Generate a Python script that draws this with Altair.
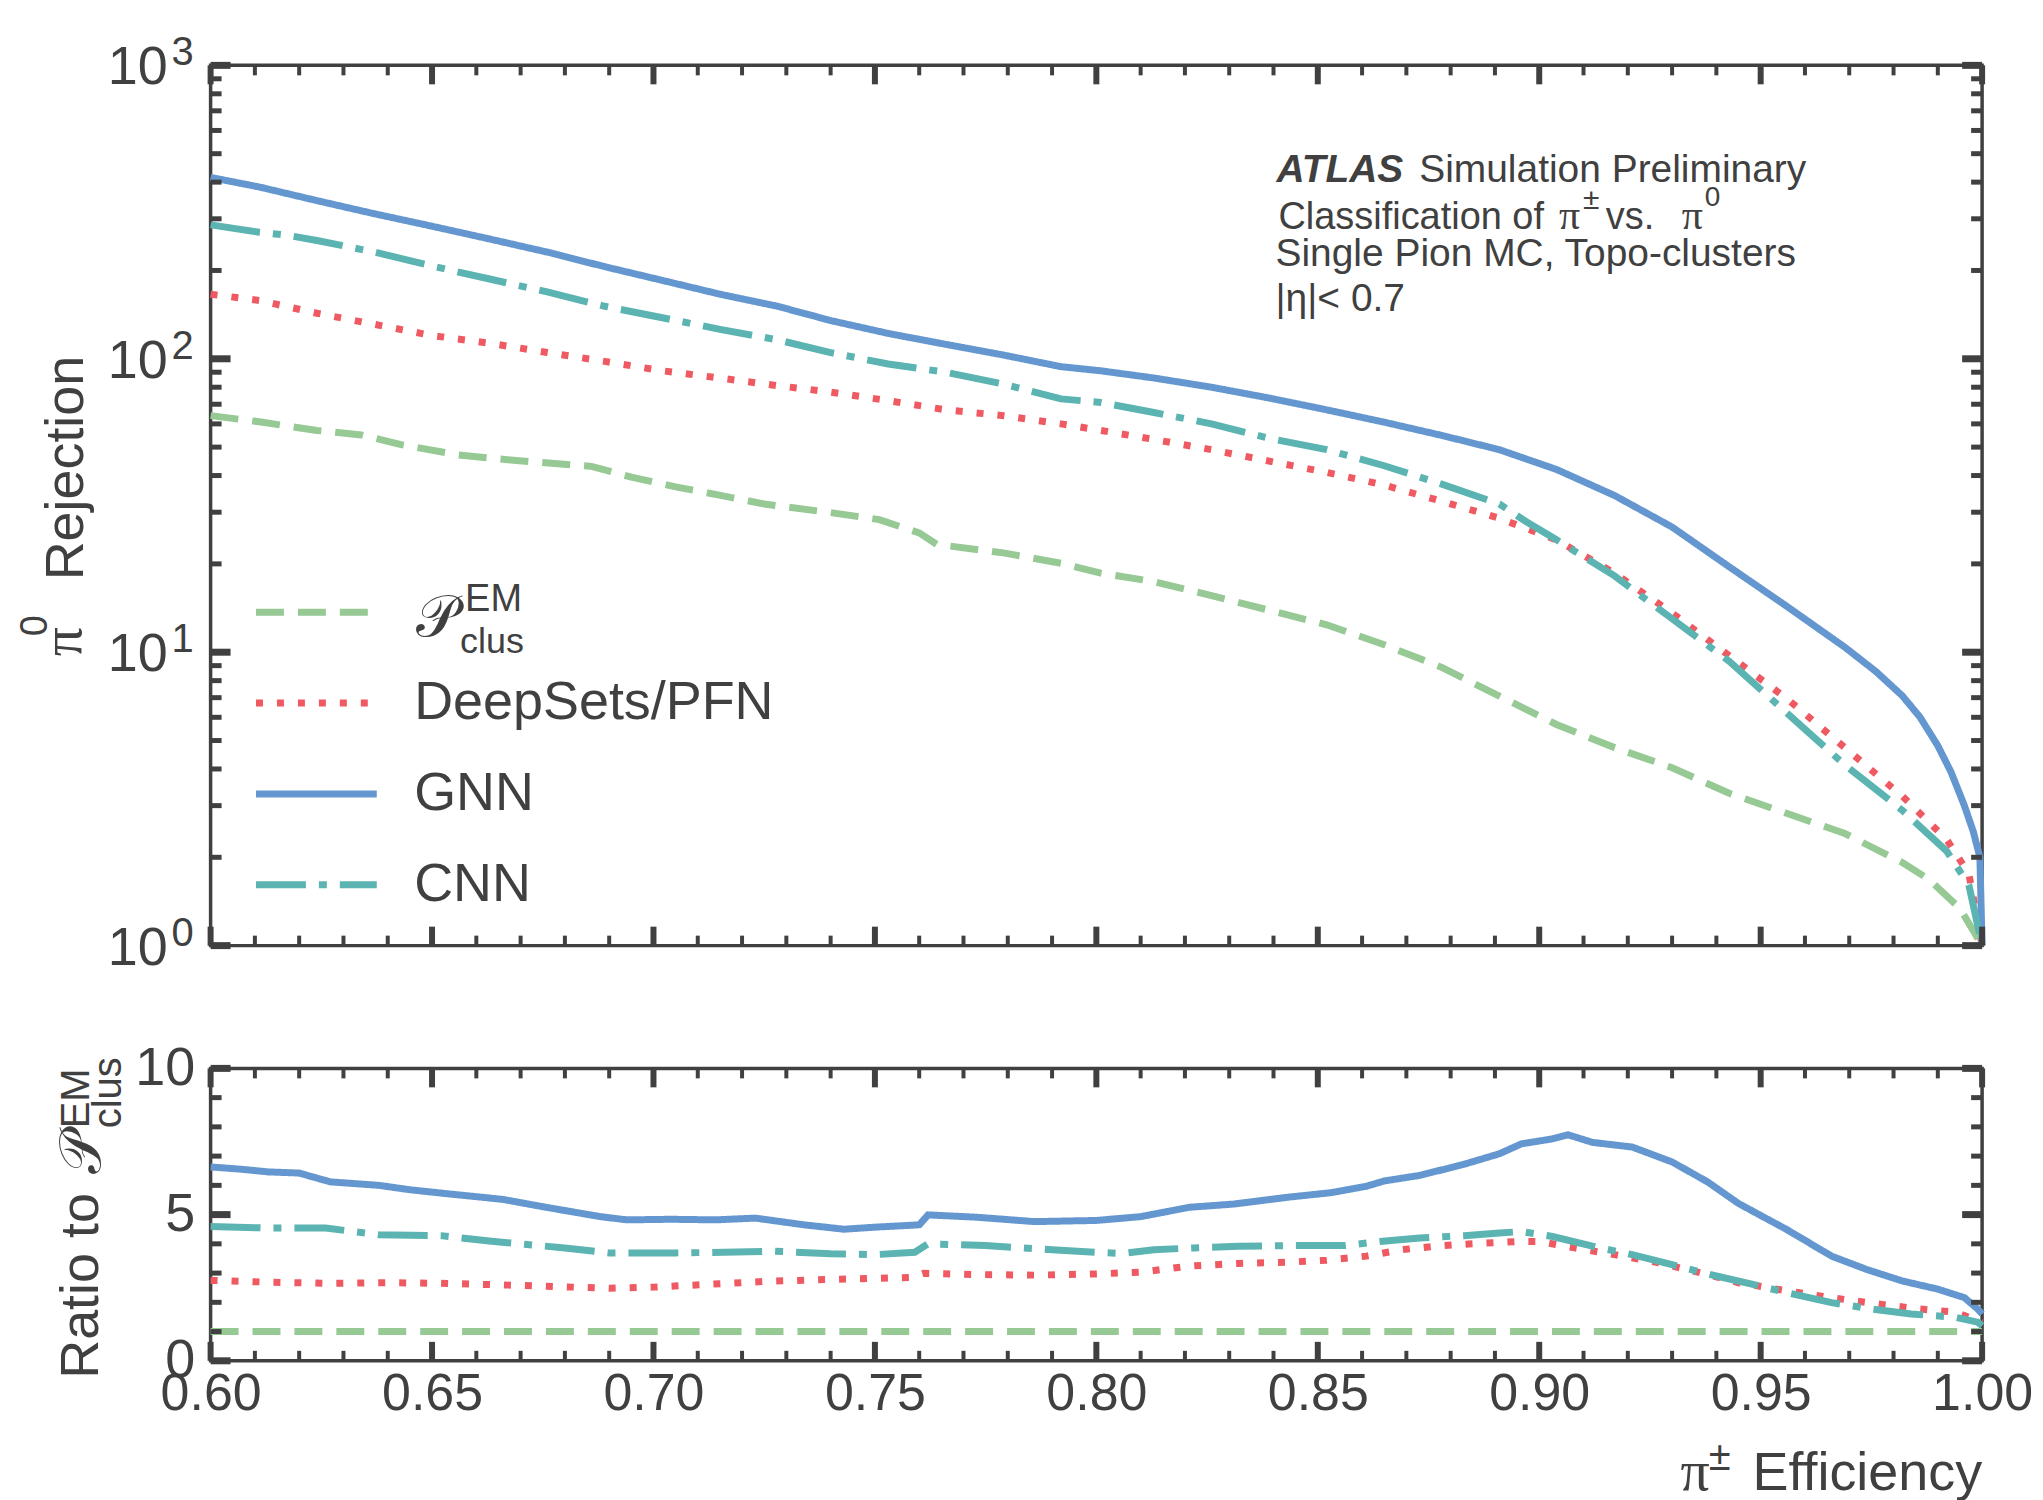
import altair as alt
import pandas as pd

FONT = "Liberation Sans"
SERIF = "Liberation Serif"
INK = "#404040"

SERIES = ["Pclus", "DeepSets/PFN", "GNN", "CNN"]
COLORS = ["#97c995", "#ef5a62", "#6497cf", "#5bb4b1"]
DASHES = [[28, 14], [7, 14], [1, 0], [50, 13, 8, 13]]

# ---------------- top panel: pi0 rejection vs pi+- efficiency ----------------
pclus_eff = [0.600, 0.611, 0.624, 0.634, 0.643, 0.656, 0.669, 0.686, 0.695, 0.705, 0.714, 0.725,
             0.740, 0.751, 0.760, 0.764, 0.779, 0.792, 0.801, 0.813, 0.826, 0.839, 0.852, 0.865,
             0.878, 0.891, 0.904, 0.917, 0.930, 0.943, 0.956, 0.969, 0.982, 0.988, 0.995, 0.9995, 1.0]
pclus_rej = [64, 61, 57, 55, 51, 47, 45, 43, 39.5, 36.6, 34.5, 32,
             29.9, 28.3, 25.5, 23.3, 21.8, 20.1, 18.6, 17.4, 15.6, 13.9, 12.4, 10.6,
             8.88, 7.09, 5.66, 4.73, 4.04, 3.30, 2.82, 2.41, 1.92, 1.68, 1.34, 1.03, 1.0]

deep_eff = [0.600, 0.611, 0.624, 0.637, 0.650, 0.663, 0.676, 0.689, 0.702, 0.715, 0.728, 0.740,
            0.753, 0.766, 0.779, 0.792, 0.801, 0.813, 0.826, 0.839, 0.852, 0.865, 0.878, 0.891,
            0.904, 0.917, 0.930, 0.943, 0.956, 0.969, 0.982, 0.992, 0.997, 1.0]
deep_rej = [166, 158, 143, 131, 120, 113, 105, 98, 91, 86, 81, 77,
            72, 67, 64, 60, 57, 53.1, 49, 44.8, 41, 37.1, 32.7, 28.6,
            24.1, 18.6, 13.6, 9.7, 6.93, 4.73, 3.23, 2.30, 1.76, 1.0]

gnn_eff = [0.600, 0.611, 0.624, 0.637, 0.650, 0.663, 0.676, 0.689, 0.702, 0.715, 0.728, 0.740,
           0.753, 0.766, 0.779, 0.792, 0.801, 0.813, 0.826, 0.839, 0.852, 0.865, 0.878, 0.891,
           0.904, 0.917, 0.930, 0.943, 0.956, 0.969, 0.976, 0.982, 0.986, 0.990, 0.993, 0.996,
           0.998, 0.9995, 1.0]
gnn_rej = [415, 385, 346, 312, 283, 256, 231, 206, 185, 166, 151, 135,
           122, 112, 103, 94, 91, 86, 80, 73.5, 67, 60.8, 54.8, 49,
           41.9, 34.2, 26.7, 19.5, 14.3, 10.4, 8.6, 7.1, 6.0, 4.8, 3.9, 3.0,
           2.45, 2.0, 1.0]

cnn_eff = [0.600, 0.611, 0.617, 0.624, 0.637, 0.650, 0.663, 0.676, 0.689, 0.702, 0.715, 0.728,
           0.740, 0.753, 0.766, 0.779, 0.792, 0.801, 0.813, 0.826, 0.839, 0.852, 0.865, 0.878,
           0.891, 0.897, 0.904, 0.917, 0.930, 0.943, 0.956, 0.969, 0.982, 0.992, 0.997, 1.0]
cnn_rej = [286, 270, 264, 253, 231, 207, 187, 169, 151, 138, 126, 116,
           105, 96, 90, 82, 73, 71, 65.6, 60, 53.6, 49, 43.2, 37.4,
           32, 27.9, 24.1, 18.2, 13, 9.29, 6.19, 4.13, 2.89, 2.10, 1.61, 1.0]

# ---------------- bottom panel: ratio to P_clus^EM ----------------
r_pclus_eff = [0.60, 0.70, 0.80, 0.90, 1.00]
r_pclus_val = [1.0, 1.0, 1.0, 1.0, 1.0]

r_deep_eff = [0.600, 0.613, 0.626, 0.640, 0.652, 0.665, 0.678, 0.690, 0.700, 0.713, 0.726, 0.739,
              0.750, 0.758, 0.761, 0.773, 0.786, 0.800, 0.810, 0.821, 0.832, 0.843, 0.852, 0.861,
              0.869, 0.878, 0.888, 0.896, 0.900, 0.908, 0.917, 0.927, 0.938, 0.945, 0.956, 0.966,
              0.975, 0.986, 0.994, 0.998, 1.0]
r_deep_val = [2.75, 2.69, 2.65, 2.67, 2.65, 2.60, 2.54, 2.48, 2.52, 2.62, 2.72, 2.78,
              2.82, 2.85, 2.99, 2.95, 2.93, 2.97, 3.03, 3.24, 3.33, 3.37, 3.44, 3.58,
              3.80, 3.94, 4.03, 4.08, 4.08, 3.86, 3.63, 3.35, 2.95, 2.67, 2.39, 2.16,
              1.97, 1.77, 1.66, 1.43, 1.3]

r_gnn_eff = [0.600, 0.607, 0.613, 0.620, 0.627, 0.638, 0.645, 0.653, 0.666, 0.675, 0.688, 0.694,
             0.704, 0.714, 0.723, 0.734, 0.743, 0.750, 0.760, 0.762, 0.773, 0.786, 0.800, 0.810,
             0.821, 0.831, 0.843, 0.853, 0.861, 0.865, 0.873, 0.883, 0.891, 0.896, 0.903, 0.9065,
             0.912, 0.921, 0.930, 0.938, 0.945, 0.956, 0.966, 0.974, 0.982, 0.990, 0.996, 0.999, 1.0]
r_gnn_val = [6.63, 6.55, 6.46, 6.42, 6.12, 6.00, 5.85, 5.72, 5.52, 5.27, 4.93, 4.82,
             4.84, 4.82, 4.88, 4.65, 4.50, 4.57, 4.65, 4.99, 4.91, 4.76, 4.80, 4.93,
             5.25, 5.36, 5.59, 5.75, 5.97, 6.15, 6.34, 6.72, 7.08, 7.42, 7.59, 7.73,
             7.47, 7.31, 6.80, 6.12, 5.38, 4.48, 3.58, 3.12, 2.73, 2.45, 2.16, 1.77, 1.6]

r_cnn_eff = [0.600, 0.613, 0.626, 0.638, 0.652, 0.664, 0.680, 0.690, 0.705, 0.716, 0.727, 0.740,
             0.750, 0.759, 0.762, 0.775, 0.790, 0.800, 0.806, 0.813, 0.822, 0.832, 0.843, 0.856,
             0.864, 0.873, 0.883, 0.891, 0.896, 0.903, 0.912, 0.921, 0.930, 0.940, 0.948, 0.956,
             0.966, 0.975, 0.984, 0.994, 0.999, 1.0]
r_cnn_val = [4.59, 4.54, 4.54, 4.31, 4.28, 4.08, 3.86, 3.69, 3.69, 3.71, 3.75, 3.66,
             3.63, 3.71, 4.00, 3.94, 3.80, 3.71, 3.67, 3.80, 3.86, 3.92, 3.94, 3.94,
             4.08, 4.20, 4.28, 4.37, 4.42, 4.25, 3.92, 3.63, 3.29, 2.90, 2.62, 2.33,
             1.99, 1.77, 1.60, 1.49, 1.32, 1.2]

# ---------------- ticks and labels ----------------
x_major = [0.60, 0.65, 0.70, 0.75, 0.80, 0.85, 0.90, 0.95, 1.00]
x_minor = [round(0.60 + 0.01 * i, 2) for i in range(41) if i % 5 != 0]
top_y_major = [1, 10, 100, 1000]
top_y_exp = ["0", "1", "2", "3"]
top_y_minor = [m * 10 ** k for k in range(3) for m in range(2, 10)]
bot_y_major = [0, 5, 10]
bot_y_minor = [1, 2, 3, 4, 6, 7, 8, 9]

ANNOT_ATLAS = "ATLAS"
ANNOT_1 = "Simulation Preliminary"
ANNOT_2 = "Classification of"
ANNOT_3 = "Single Pion MC, Topo-clusters"
ANNOT_4 = "|η|< 0.7"
SCRIPT_P = "𝒫"

W, H1, H2 = 1775, 882, 293


def frame_df(effs, vals, name):
    return pd.DataFrame({"eff": effs, "val": vals, "series": name})


top_df = pd.concat([frame_df(pclus_eff, pclus_rej, SERIES[0]),
                    frame_df(deep_eff, deep_rej, SERIES[1]),
                    frame_df(gnn_eff, gnn_rej, SERIES[2]),
                    frame_df(cnn_eff, cnn_rej, SERIES[3])], ignore_index=True)
bot_df = pd.concat([frame_df(r_pclus_eff, r_pclus_val, SERIES[0]),
                    frame_df(r_deep_eff, r_deep_val, SERIES[1]),
                    frame_df(r_gnn_eff, r_gnn_val, SERIES[2]),
                    frame_df(r_cnn_eff, r_cnn_val, SERIES[3])], ignore_index=True)

xscale = alt.Scale(domain=[0.6, 1.0], nice=False, zero=False)
yscale_top = alt.Scale(type="log", domain=[1, 1000], nice=False)
yscale_bot = alt.Scale(domain=[0, 10], nice=False, zero=False)

bot_xaxis = alt.Axis(values=x_major, format=".2f", ticks=False, tickSize=0, domain=False,
                     grid=False, labelFont=FONT, labelFontSize=52, labelColor=INK,
                     labelPadding=8, labelFlush=False, title=None)
bot_yaxis = alt.Axis(values=bot_y_major, format="d", ticks=False, tickSize=0, domain=False,
                     grid=False, labelFont=FONT, labelFontSize=54, labelColor=INK,
                     labelPadding=16, title=None)


def txt(s, x, y, size, font=FONT, align="left", baseline="alphabetic", angle=0,
        weight="normal", style="normal", color=INK):
    return alt.Chart(pd.DataFrame({"label": [s]})).mark_text(
        align=align, baseline=baseline, angle=angle, font=font, fontSize=size,
        fontWeight=weight, fontStyle=style, color=color
    ).encode(x=alt.value(x), y=alt.value(y), text="label:N")


def x_ticks(vals, length, width, height, axis=None):
    base = alt.Chart(pd.DataFrame({"v": vals})).mark_rule(color=INK, strokeWidth=width)
    xe = alt.X("v:Q", scale=xscale, axis=axis)
    return [base.encode(x=xe, y=alt.value(height), y2=alt.value(height - length)),
            base.encode(x=xe, y=alt.value(0), y2=alt.value(length))]


def y_ticks(vals, yscale, length, width, axis=None):
    base = alt.Chart(pd.DataFrame({"v": vals})).mark_rule(color=INK, strokeWidth=width)
    ye = alt.Y("v:Q", scale=yscale, axis=axis)
    return [base.encode(y=ye, x=alt.value(0), x2=alt.value(length)),
            base.encode(y=ye, x=alt.value(W), x2=alt.value(W - length))]


legend = alt.Legend(
    orient="none", legendX=42, legendY=484, title=None, direction="vertical",
    symbolType="stroke", symbolSize=121 * 121, symbolStrokeWidth=7,
    labelFont=FONT, labelFontSize=54, labelColor=INK, labelOffset=34, labelLimit=1000,
    rowPadding=-45, padding=0,
    labelExpr="datum.label == 'Pclus' ? '' : datum.label",
)

top_lines = alt.Chart(top_df).mark_line(strokeWidth=7, strokeCap="butt").encode(
    x=alt.X("eff:Q", scale=xscale, axis=None),
    y=alt.Y("val:Q", scale=yscale_top, axis=None),
    color=alt.Color("series:N", scale=alt.Scale(domain=SERIES, range=COLORS), legend=legend),
    strokeDash=alt.StrokeDash("series:N", scale=alt.Scale(domain=SERIES, range=DASHES), legend=legend),
)

ylab_df = pd.DataFrame({"v": top_y_major, "exp": top_y_exp})
ylab_ten = alt.Chart(ylab_df).mark_text(
    align="right", baseline="alphabetic", font=FONT, fontSize=54, color=INK, dy=19, text="10"
).encode(y=alt.Y("v:Q", scale=yscale_top, axis=None), x=alt.value(-43))
ylab_exp = alt.Chart(ylab_df).mark_text(
    align="right", baseline="alphabetic", font=FONT, fontSize=40, color=INK, dy=0
).encode(y=alt.Y("v:Q", scale=yscale_top, axis=None), x=alt.value(-17), text="exp:N")

anchor = alt.Chart(pd.DataFrame({"a": [0]})).mark_rule(color="white", strokeWidth=1).encode(
    x=alt.value(-200), x2=alt.value(-199), y=alt.value(-53), y2=alt.value(-52))

top_layers = [anchor, top_lines]
top_layers += x_ticks(x_major, 19, 6, H1) + x_ticks(x_minor, 10, 4, H1)
top_layers += y_ticks(top_y_major, yscale_top, 20, 7) + y_ticks(top_y_minor, yscale_top, 11, 5)
top_layers += [ylab_ten, ylab_exp]
top_layers += [
    # y title
    txt("Rejection", -128, 516, 54, angle=270),
    txt("π", -130, 592, 58, font=SERIF, angle=270),
    txt("0", -164, 572, 38, angle=270),
    # annotation
    txt(ANNOT_ATLAS, 1068, 117, 39, weight="bold", style="italic"),
    txt(ANNOT_1, 1211, 117, 39),
    txt(ANNOT_2, 1070, 164, 38),
    txt("π", 1351, 164, 42, font=SERIF),
    txt("±", 1375, 144, 30),
    txt("vs.", 1398, 164, 38),
    txt("π", 1474, 164, 42, font=SERIF),
    txt("0", 1497, 141, 28),
    txt(ANNOT_3, 1067, 201, 39),
    txt(ANNOT_4, 1067, 246, 39),
    # legend label for P_clus^EM
    txt(SCRIPT_P, 206, 572, 58, font=SERIF),
    txt("EM", 255, 547, 38),
    txt("clus", 250, 589, 36),
]
top = alt.layer(*top_layers).properties(width=W, height=H1)

bot_lines = alt.Chart(bot_df).mark_line(strokeWidth=7, strokeCap="butt").encode(
    x=alt.X("eff:Q", scale=xscale, axis=bot_xaxis),
    y=alt.Y("val:Q", scale=yscale_bot, axis=bot_yaxis),
    color=alt.Color("series:N", scale=alt.Scale(domain=SERIES, range=COLORS), legend=None),
    strokeDash=alt.StrokeDash("series:N", scale=alt.Scale(domain=SERIES, range=DASHES), legend=None),
)

bot_layers = [bot_lines]
bot_layers += x_ticks(x_major, 19, 6, H2, bot_xaxis) + x_ticks(x_minor, 10, 4, H2, bot_xaxis)
bot_layers += (y_ticks(bot_y_major, yscale_bot, 20, 7, bot_yaxis)
               + y_ticks(bot_y_minor, yscale_bot, 11, 5, bot_yaxis))
bot_layers += [
    txt("Ratio to", -113, 311, 54, angle=270),
    txt(SCRIPT_P, -111, 106, 58, font=SERIF, angle=270),
    txt("EM", -122, 60, 40, angle=270),
    txt("clus", -90, 60, 40, angle=270),
    txt("Efficiency", W, 422, 54, align="right"),
    txt("±", 1523, 402, 40, align="right"),
    txt("π", 1502, 422, 58, font=SERIF, align="right"),
]
bottom = alt.layer(*bot_layers).properties(width=W, height=H2)

chart = alt.vconcat(top, bottom, spacing=123, bounds="flush").resolve_scale(
    color="independent", strokeDash="independent"
).properties(padding=0).configure_view(stroke=INK, strokeWidth=3.5)

chart.save("out.html", embed_options={"renderer": "svg", "actions": False})
